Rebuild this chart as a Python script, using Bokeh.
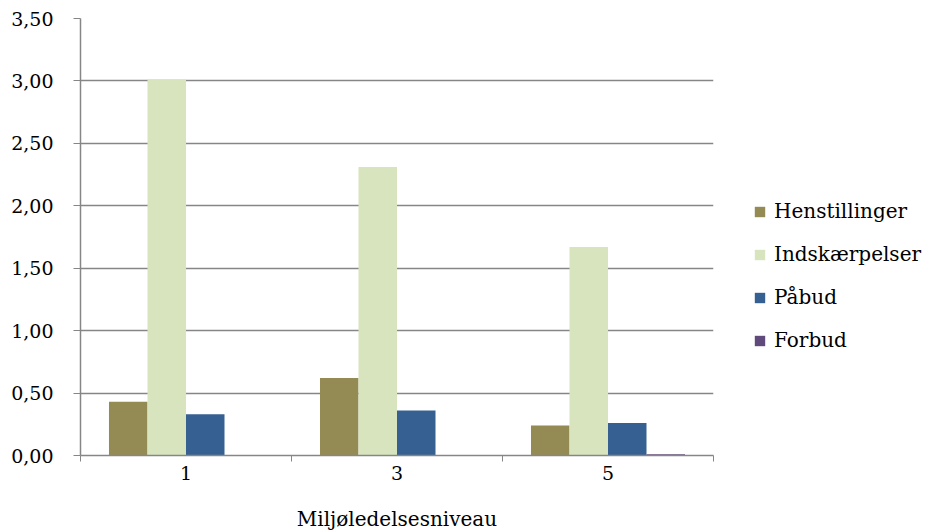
from bokeh.plotting import figure
from bokeh.models import ColumnDataSource, FixedTicker, Legend, LegendItem, Range1d
from bokeh.embed import file_html
from bokeh.resources import INLINE

categories = ["1", "3", "5"]
henstillinger = [0.43, 0.62, 0.24]
indskaerpelser = [3.01, 2.31, 1.67]
paabud = [0.33, 0.36, 0.26]
forbud = [0.0, 0.0, 0.01]
series_names = ["Henstillinger", "Indskærpelser", "Påbud", "Forbud"]
series_values = [henstillinger, indskaerpelser, paabud, forbud]
colors = ["#948A54", "#D7E4BD", "#376092", "#604A7B"]
y_ticks = [0, 0.5, 1.0, 1.5, 2.0, 2.5, 3.0, 3.5]

FONT = "DejaVu Serif"
GREY = "#868686"

p = figure(frame_width=633, frame_height=437, output_backend="svg",
           toolbar_location=None,
           x_range=Range1d(0, len(categories)), y_range=Range1d(0, 3.5),
           min_border_left=80, min_border_right=200, min_border_top=18,
           min_border_bottom=73)
p.outline_line_color = None
p.background_fill_color = "white"

bar_w = 0.1825
offsets = [-1.5 * bar_w, -0.5 * bar_w, 0.5 * bar_w, 1.5 * bar_w]
centers = [i + 0.5 for i in range(len(categories))]
items = []
for name, vals, col, off in zip(series_names, series_values, colors, offsets):
    src = ColumnDataSource(dict(x=[c + off for c in centers], top=vals))
    r = p.vbar(x="x", top="top", width=bar_w, source=src, fill_color=col,
               line_color=None)
    items.append(LegendItem(label=name, renderers=[r]))

legend = Legend(items=items, location=(40, 103), border_line_color=None,
                background_fill_alpha=0, padding=0, margin=0,
                glyph_width=13, glyph_height=13, label_height=20,
                label_standoff=8, spacing=19,
                label_text_font=FONT, label_text_font_size="20px",
                label_text_color="black")
p.add_layout(legend, "right")

# x axis
p.xaxis.ticker = FixedTicker(ticks=centers,
                             minor_ticks=list(range(len(categories) + 1)))
p.xaxis.major_label_overrides = {c: lab for c, lab in zip(centers, categories)}
p.xaxis.major_tick_out = 0
p.xaxis.major_tick_in = 0
p.xaxis.minor_tick_out = 6
p.xaxis.minor_tick_in = 0
p.xaxis.minor_tick_line_color = GREY
p.xaxis.axis_line_color = GREY
p.xaxis.axis_line_width = 1.5
p.xaxis.major_label_standoff = 4
p.xaxis.major_label_text_font = FONT
p.xaxis.major_label_text_font_size = "19px"
p.xaxis.major_label_text_color = "black"
p.xaxis.axis_label = "Miljøledelsesniveau"
p.xaxis.axis_label_text_font = FONT
p.xaxis.axis_label_text_font_size = "20px"
p.xaxis.axis_label_text_font_style = "normal"
p.xaxis.axis_label_text_color = "black"
p.xaxis.axis_label_standoff = 24
p.xgrid.grid_line_color = None

# y axis
p.yaxis.ticker = FixedTicker(ticks=y_ticks, minor_ticks=[])
p.yaxis.major_label_overrides = {v: f"{v:.2f}".replace(".", ",") for v in y_ticks}
p.yaxis.major_tick_out = 7
p.yaxis.major_tick_in = 0
p.yaxis.major_tick_line_color = GREY
p.yaxis.axis_line_color = GREY
p.yaxis.axis_line_width = 1.5
p.yaxis.major_label_standoff = 20
p.yaxis.major_label_text_font = FONT
p.yaxis.major_label_text_font_size = "19px"
p.yaxis.major_label_text_color = "black"
p.ygrid.grid_line_color = GREY
p.ygrid.grid_line_width = 1.5

open("out.html", "w").write(file_html(p, INLINE))
